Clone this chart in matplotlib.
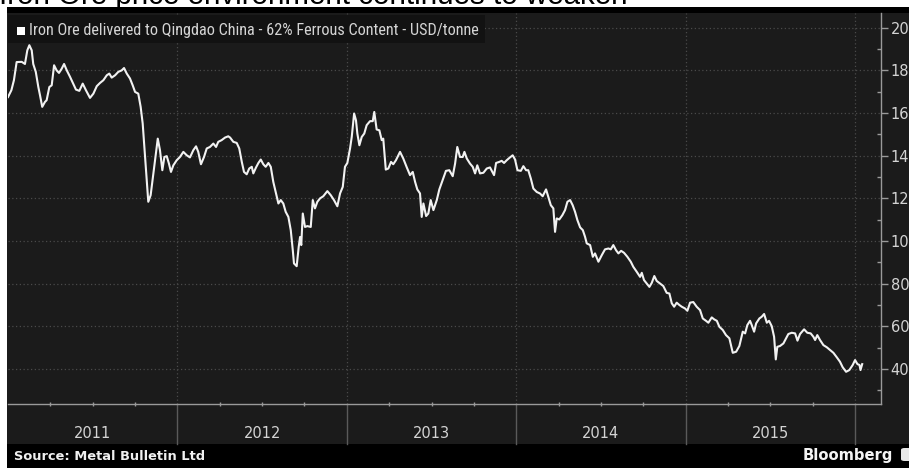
import matplotlib
matplotlib.use("Agg")
import matplotlib.pyplot as plt
from matplotlib import font_manager
from matplotlib.patches import Rectangle, FancyBboxPatch
import matplotlib.transforms as mtransforms
from matplotlib.ticker import MultipleLocator, FixedLocator, NullFormatter

# ---------------- data ----------------
title = "Iron Ore price environment continues to weaken"
series_label = "Iron Ore delivered to Qingdao China - 62% Ferrous Content - USD/tonne"
source = "Source: Metal Bulletin Ltd"
brand = "Bloomberg"
years = [2011, 2012, 2013, 2014, 2015]
y_ticks = [40, 60, 80, 100, 120, 140, 160, 180, 200]

# decimal-year dates and price (USD/tonne)
t = [2011.000, 2011.020, 2011.035, 2011.051, 2011.081, 2011.100, 2011.114, 2011.126, 2011.140, 2011.149,
     2011.164, 2011.179, 2011.189, 2011.202, 2011.218, 2011.228, 2011.244, 2011.258, 2011.272, 2011.287,
     2011.301, 2011.317, 2011.331, 2011.347, 2011.366, 2011.385, 2011.401, 2011.421, 2011.441, 2011.460,
     2011.484, 2011.504, 2011.524, 2011.543, 2011.563, 2011.583, 2011.598, 2011.612, 2011.632, 2011.651,
     2011.671, 2011.685, 2011.701, 2011.720, 2011.736, 2011.750, 2011.769, 2011.783, 2011.795, 2011.805,
     2011.815, 2011.828, 2011.842, 2011.858, 2011.872, 2011.884, 2011.897, 2011.911, 2011.923, 2011.937,
     2011.950, 2011.962, 2011.976, 2011.996, 2012.015, 2012.035, 2012.055, 2012.074, 2012.094, 2012.110,
     2012.123, 2012.139, 2012.157, 2012.173, 2012.192, 2012.212, 2012.228, 2012.241, 2012.261, 2012.281,
     2012.300, 2012.311, 2012.330, 2012.350, 2012.365, 2012.380, 2012.393, 2012.409, 2012.424, 2012.439,
     2012.448, 2012.464, 2012.478, 2012.492, 2012.507, 2012.521, 2012.537, 2012.551, 2012.566, 2012.582,
     2012.596, 2012.610, 2012.625, 2012.639, 2012.655, 2012.669, 2012.681, 2012.688, 2012.704, 2012.716,
     2012.724, 2012.731, 2012.740, 2012.753, 2012.767, 2012.787, 2012.799, 2012.812, 2012.826, 2012.842,
     2012.861, 2012.885, 2012.905, 2012.924, 2012.944, 2012.960, 2012.976, 2012.989, 2013.003, 2013.019,
     2013.029, 2013.043, 2013.054, 2013.062, 2013.074, 2013.088, 2013.103, 2013.117, 2013.137, 2013.153,
     2013.162, 2013.176, 2013.192, 2013.206, 2013.215, 2013.230, 2013.245, 2013.261, 2013.274, 2013.290,
     2013.314, 2013.333, 2013.354, 2013.373, 2013.389, 2013.403, 2013.416, 2013.432, 2013.442, 2013.452,
     2013.468, 2013.481, 2013.495, 2013.511, 2013.531, 2013.546, 2013.565, 2013.585, 2013.605, 2013.625,
     2013.639, 2013.652, 2013.668, 2013.684, 2013.694, 2013.708, 2013.727, 2013.743, 2013.757, 2013.770,
     2013.786, 2013.806, 2013.826, 2013.845, 2013.859, 2013.869, 2013.881, 2013.900, 2013.914, 2013.928,
     2013.944, 2013.963, 2013.979, 2013.993, 2014.007, 2014.027, 2014.042, 2014.058, 2014.071, 2014.086,
     2014.101, 2014.121, 2014.140, 2014.156, 2014.176, 2014.189, 2014.204, 2014.219, 2014.229, 2014.239,
     2014.254, 2014.272, 2014.288, 2014.302, 2014.318, 2014.333, 2014.347, 2014.361, 2014.377, 2014.393,
     2014.406, 2014.416, 2014.436, 2014.452, 2014.465, 2014.485, 2014.505, 2014.524, 2014.544, 2014.558,
     2014.573, 2014.589, 2014.603, 2014.619, 2014.636, 2014.656, 2014.676, 2014.691, 2014.711, 2014.731,
     2014.741, 2014.754, 2014.770, 2014.786, 2014.800, 2014.815, 2014.829, 2014.849, 2014.868, 2014.888,
     2014.904, 2014.918, 2014.932, 2014.947, 2014.963, 2014.977, 2014.996, 2015.010, 2015.026, 2015.045,
     2015.065, 2015.085, 2015.101, 2015.120, 2015.134, 2015.154, 2015.168, 2015.184, 2015.199, 2015.219,
     2015.238, 2015.258, 2015.278, 2015.298, 2015.317, 2015.337, 2015.351, 2015.364, 2015.380, 2015.390,
     2015.404, 2015.416, 2015.435, 2015.449, 2015.463, 2015.479, 2015.492, 2015.508, 2015.522, 2015.532,
     2015.541, 2015.557, 2015.577, 2015.593, 2015.606, 2015.626, 2015.646, 2015.660, 2015.675, 2015.699,
     2015.718, 2015.738, 2015.754, 2015.764, 2015.777, 2015.793, 2015.813, 2015.833, 2015.852, 2015.872,
     2015.892, 2015.911, 2015.927, 2015.947, 2015.966, 2015.986, 2016.000, 2016.014, 2016.026, 2016.032,
     2016.042]

price = [167.5, 170.7, 175.4, 183.9, 184.0, 183.0, 189.4, 191.8, 189.4, 183.0,
         179.3, 172.2, 168.3, 162.9, 165.2, 166.0, 172.2, 173.0, 182.4, 180.0,
         178.8, 180.8, 183.0, 180.0, 177.0, 173.8, 171.0, 170.4, 173.8, 170.7,
         167.1, 169.1, 172.6, 174.1, 175.4, 177.7, 178.5, 176.6, 177.7, 179.3,
         180.0, 181.1, 178.5, 176.2, 173.0, 169.9, 169.1, 162.9, 155.1, 144.1,
         133.2, 118.4, 121.5, 131.7, 141.0, 148.0, 142.6, 133.2, 139.4, 139.8,
         136.3, 132.4, 135.5, 137.9, 139.4, 141.8, 140.2, 139.2, 142.6, 144.4,
         141.8, 136.0, 139.4, 143.4, 144.1, 145.7, 144.1, 146.5, 147.3, 148.5,
         149.1, 148.5, 146.5, 146.0, 143.4, 137.1, 132.4, 131.3, 134.0, 134.8,
         131.7, 134.5, 136.6, 138.2, 136.0, 134.8, 136.6, 134.8, 127.7, 122.3,
         117.6, 119.2, 117.6, 113.7, 111.3, 105.1, 95.7, 89.5, 88.2, 97.3,
         101.9, 98.1, 112.9, 106.6, 107.0, 106.6, 119.2, 115.3, 118.4, 120.0,
         121.0, 123.4, 121.5, 119.2, 116.3, 122.3, 125.4, 134.8, 136.6, 143.4,
         148.8, 159.8, 156.6, 150.4, 144.9, 148.8, 150.4, 154.3, 156.2, 156.2,
         160.5, 152.3, 151.9, 147.3, 148.0, 133.5, 134.0, 137.1, 136.0, 137.9,
         141.8, 138.7, 134.5, 130.9, 132.4, 127.7, 124.2, 122.3, 111.3, 117.6,
         111.7, 112.9, 119.2, 114.5, 119.2, 124.2, 128.5, 132.9, 133.2, 130.4,
         136.3, 144.1, 139.4, 139.4, 141.8, 138.7, 136.3, 134.8, 131.7, 135.5,
         131.7, 132.0, 134.0, 134.5, 132.4, 130.9, 136.6, 137.1, 137.6, 136.6,
         137.9, 139.2, 140.2, 138.2, 133.2, 132.9, 135.1, 133.2, 133.2, 129.3,
         124.6, 123.0, 122.3, 121.0, 124.2, 120.7, 116.8, 115.3, 104.3, 110.6,
         110.1, 112.1, 114.5, 118.4, 119.2, 116.8, 113.7, 109.8, 106.4, 105.1,
         102.0, 98.9, 98.1, 92.6, 94.2, 90.3, 93.4, 96.1, 96.5, 96.1,
         98.1, 95.7, 94.2, 95.4, 94.5, 92.6, 90.3, 87.9, 85.6, 83.2,
         85.1, 81.7, 80.1, 78.5, 80.4, 83.6, 81.3, 80.1, 78.9, 75.7,
         75.4, 70.8, 69.2, 71.1, 70.0, 69.2, 68.4, 67.3, 71.1, 71.4,
         69.2, 67.6, 63.7, 62.6, 61.7, 64.2, 63.3, 62.6, 59.8, 58.3,
         55.9, 54.4, 47.6, 48.1, 50.8, 57.5, 56.7, 60.6, 62.6, 60.6,
         57.5, 61.4, 63.7, 64.5, 65.8, 61.7, 62.6, 60.1, 55.1, 44.5,
         50.4, 50.8, 52.0, 54.4, 56.4, 57.0, 56.7, 53.3, 56.4, 58.6,
         57.0, 56.7, 55.1, 53.6, 55.9, 53.6, 51.2, 50.2, 48.9, 47.6,
         45.5, 43.4, 40.8, 38.7, 39.5, 41.9, 44.2, 42.3, 41.9, 39.5,
         42.3]

# ---------------- layout helpers (pixel based) ----------------
W, H = 909, 468


def fx(px):
    return px / W


def fy(py):
    return 1 - py / H


names = {f.name for f in font_manager.fontManager.ttflist}
narrow = next((n for n in ["Liberation Sans Narrow", "Roboto Condensed", "DejaVu Sans"] if n in names),
              "DejaVu Sans")

BG = "#1b1b1b"
TXT = "#d4d4d4"
AXC = "#9a9a9a"

fig = plt.figure(figsize=(W / 100, H / 100), dpi=100, facecolor="white")

# dark panel + black bands
fig.add_artist(Rectangle((fx(7), 0), 1 - fx(7), fy(7), transform=fig.transFigure,
                         facecolor=BG, edgecolor="none", zorder=-5))
fig.add_artist(Rectangle((fx(7), fy(13)), 1 - fx(7), fy(7) - fy(13), transform=fig.transFigure,
                         facecolor="black", edgecolor="none", zorder=-4))
fig.add_artist(Rectangle((fx(7), 0), 1 - fx(7), fy(444), transform=fig.transFigure,
                         facecolor="black", edgecolor="none", zorder=-4))

ax = fig.add_axes([fx(8), fy(404), fx(881) - fx(8), fy(13) - fy(404)])
ax.set_facecolor(BG)
ax.plot(t, price, color="#f2f2f2", lw=1.5, solid_joinstyle="round", zorder=3)
ax.set_xlim(2011.0, 2016.153)
ax.set_ylim(23.6, 206.9)

for s in ["top", "left"]:
    ax.spines[s].set_visible(False)
for s in ["right", "bottom"]:
    ax.spines[s].set_color(AXC)
    ax.spines[s].set_linewidth(1.0)

ax.yaxis.tick_right()
ax.yaxis.set_major_locator(FixedLocator(y_ticks))
ax.yaxis.set_minor_locator(MultipleLocator(10))
ax.tick_params(axis="y", which="major", direction="out", length=5, width=1, color=AXC,
               labelcolor=TXT, labelsize=10.5, pad=2)
ax.tick_params(axis="y", which="minor", direction="in", length=3, width=1, color=AXC)

boundaries = years[1:] + [years[-1] + 1]
ax.xaxis.set_major_locator(FixedLocator(boundaries))
ax.xaxis.set_major_formatter(NullFormatter())
ax.xaxis.set_minor_locator(FixedLocator([y + q * 0.25 for y in years + [years[-1] + 1] for q in (1, 2, 3)]))
ax.tick_params(axis="x", which="major", length=0)
ax.tick_params(axis="x", which="minor", direction="inout", length=3, width=1, color=AXC)

ax.grid(True, which="major", color="#4a4a4a", linestyle=(0, (1, 2)), linewidth=0.9)

axh = 404 - 13
blend = mtransforms.blended_transform_factory(ax.transData, ax.transAxes)
for b in boundaries:
    ax.plot([b, b], [0, -40 / axh], transform=blend, color="#5a5a5a", lw=1.0, clip_on=False)
for y in years:
    ax.text(y + 0.5, -(434 - 404) / axh, str(y), transform=blend, ha="center", va="center",
            color=TXT, fontsize=10.5)

# legend box
fig.add_artist(Rectangle((fx(8), fy(43)), fx(485) - fx(8), fy(15) - fy(43), transform=fig.transFigure,
                         facecolor="#121212", edgecolor="none", zorder=5))
fig.add_artist(Rectangle((fx(17), fy(34.5)), fx(8), fy(26.5) - fy(34.5), transform=fig.transFigure,
                         facecolor="white", edgecolor="none", zorder=6))
leg_txt = fig.text(fx(29), fy(30.5), series_label, ha="left", va="center", color=TXT,
                   fontsize=10, family=narrow, zorder=6)

# title (mostly cropped at top)
title_txt = fig.text(fx(-1), fy(4.5), title, ha="left", va="baseline", color="black",
                     fontsize=19, family="Liberation Sans", zorder=-3)

# footer
src_txt = fig.text(fx(14), fy(460), source, ha="left", va="baseline", color="#f0f0f0",
                   fontsize=9, fontweight="bold", zorder=6)
brand_txt = fig.text(fx(803), fy(460), brand, ha="left", va="baseline", color="#f4f4f4",
                     fontsize=11, fontweight="bold", zorder=6)
fig.add_artist(FancyBboxPatch((fx(901), fy(461)), fx(12), fy(448) - fy(461),
                              boxstyle="round,pad=0,rounding_size=0.004", transform=fig.transFigure,
                              facecolor="#e8e8e8", edgecolor="none", zorder=6))

# fit text widths to the reference
renderer = fig.canvas.get_renderer()
for txt, target in [(leg_txt, 449), (title_txt, 628), (src_txt, 190), (brand_txt, 90)]:
    w = txt.get_window_extent(renderer).width
    txt.set_fontsize(txt.get_fontsize() * target / w)

fig.savefig("out.png", dpi=100, facecolor="white")
